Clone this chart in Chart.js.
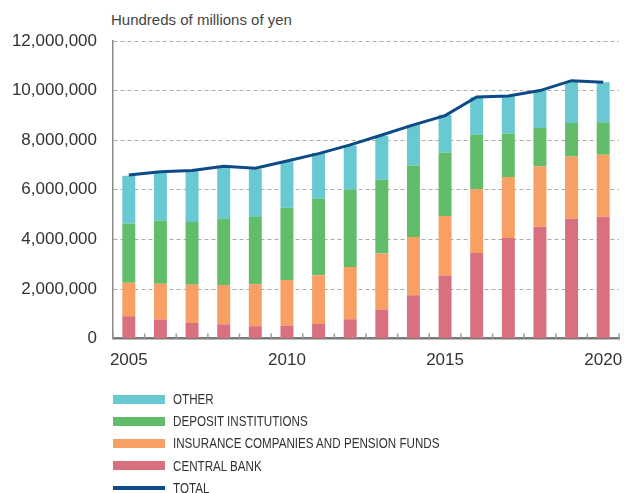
<!DOCTYPE html>
<html>
<head>
<meta charset="utf-8">
<script src="https://cdn.jsdelivr.net/npm/chart.js@4.4.1/dist/chart.umd.min.js"></script>
<style>
  body { margin: 0; background: #fff; width: 624px; height: 493px; overflow: hidden; position: relative; }
  #wrap { position: absolute; left: 0; top: 0; width: 624px; height: 391px; }
  #unit { position: absolute; left: 111px; top: 11px; font: 15px "Liberation Sans", Arial, sans-serif; color: #444; }
  #legend { position: absolute; left: 113px; top: 388px; font: 14px "Liberation Sans", Arial, sans-serif; color: #333; }
  .item { height: 22.2px; display: flex; align-items: center; white-space: nowrap; }
  .sw { width: 52px; height: 9px; margin-right: 8px; flex: none; }
  .item span { display: inline-block; transform: scaleX(0.83); transform-origin: left center; }
</style>
</head>
<body>
<div id="unit">Hundreds of millions of yen</div>
<div id="wrap"><canvas id="myChart"></canvas></div>
<div id="legend"></div>
<script>
const years = ['2005','2006','2007','2008','2009','2010','2011','2012','2013','2014','2015','2016','2017','2018','2019','2020'];
// segment heights (hundreds of millions of yen)
const centralBank = [900000, 770000, 630000, 580000, 500000, 530000, 590000, 780000, 1170000, 1750000, 2540000, 3450000, 4060000, 4510000, 4830000, 4910000];
const insurance   = [1350000, 1440000, 1540000, 1580000, 1690000, 1830000, 1960000, 2110000, 2260000, 2350000, 2400000, 2570000, 2460000, 2440000, 2510000, 2500000];
const deposit     = [2390000, 2540000, 2530000, 2670000, 2710000, 2920000, 3090000, 3110000, 2990000, 2880000, 2560000, 2200000, 1750000, 1540000, 1350000, 1310000];
const other       = [1930000, 1940000, 2070000, 2070000, 1930000, 1860000, 1840000, 1790000, 1760000, 1640000, 1530000, 1510000, 1530000, 1510000, 1660000, 1620000];
const total       = [6600000, 6730000, 6780000, 6950000, 6870000, 7160000, 7460000, 7810000, 8210000, 8620000, 8990000, 9740000, 9780000, 10000000, 10400000, 10340000];
const yTicks = [0, 2000000, 4000000, 6000000, 8000000, 10000000, 12000000];
const shownYears = ['2005','2010','2015','2020'];

const series = [
  { label: 'CENTRAL BANK', data: centralBank, color: '#d9707f' },
  { label: 'INSURANCE COMPANIES AND PENSION FUNDS', data: insurance, color: '#f89f63' },
  { label: 'DEPOSIT INSTITUTIONS', data: deposit, color: '#61bd69' },
  { label: 'OTHER', data: other, color: '#68c9d3' }
];

const barSets = series.map(s => ({
  type: 'bar',
  label: s.label,
  data: s.data,
  backgroundColor: s.color,
  borderWidth: 0,
  barPercentage: 0.41,
  categoryPercentage: 1,
  stack: 'parts',
  order: 1
}));

const lineSet = {
  type: 'line',
  label: 'TOTAL',
  data: total,
  borderColor: '#0d4a86',
  borderWidth: 3,
  pointRadius: 0,
  tension: 0,
  fill: false,
  stack: 'total',
  order: 0
};

// little tick marks sitting on the x axis between the years
const xTickMarks = {
  id: 'xTickMarks',
  afterDatasetsDraw(chart) {
    const xs = chart.scales.x, bottom = chart.chartArea.bottom, ctx = chart.ctx;
    const step = xs.getPixelForValue(1) - xs.getPixelForValue(0);
    ctx.save();
    ctx.strokeStyle = '#999';
    ctx.lineWidth = 1.5;
    for (let i = 0; i <= years.length; i++) {
      const x = xs.getPixelForValue(0) - step / 2 + i * step;
      ctx.beginPath();
      ctx.moveTo(x, bottom - 5);
      ctx.lineTo(x, bottom);
      ctx.stroke();
    }
    ctx.restore();
  }
};

const ctx = document.getElementById('myChart').getContext('2d');
const myChart = new Chart(ctx, {
  data: { labels: years, datasets: [...barSets, lineSet] },
  plugins: [xTickMarks],
  options: {
    responsive: true,
    maintainAspectRatio: false,
    animation: false,
    layout: { padding: { left: 0, right: 5, top: 41, bottom: 8 } },
    plugins: { legend: { display: false }, tooltip: { enabled: false } },
    scales: {
      x: {
        stacked: true,
        offset: true,
        grid: { display: false, drawTicks: false },
        border: { display: true, color: '#7a7a7a', width: 2.5 },
        afterFit: axis => { axis.paddingLeft = 0; axis.paddingRight = 0; },
        ticks: {
          autoSkip: false,
          maxRotation: 0,
          padding: 12,
          color: '#333',
          font: { family: '"Liberation Sans", Arial, sans-serif', size: 17 },
          callback: function(value) {
            const y = this.getLabelForValue(value);
            return shownYears.includes(y) ? y : '';
          }
        }
      },
      y: {
        stacked: true,
        min: 0,
        max: 12000000,
        afterBuildTicks: axis => { axis.ticks = yTicks.map(v => ({ value: v })); },
        afterFit: axis => { axis.width = 113; },
        grid: { color: '#aaa', lineWidth: 1, drawTicks: false },
        border: { display: true, color: '#8a8a8a', width: 1.5, dash: [4, 3] },
        ticks: {
          padding: 16,
          color: '#333',
          font: { family: '"Liberation Sans", Arial, sans-serif', size: 17 },
          callback: value => value.toLocaleString('en-US')
        }
      }
    }
  }
});

// legend drawn as html below the canvas
const legend = document.getElementById('legend');
[...series].reverse().concat([{ label: 'TOTAL', color: '#0d4a86', line: true }]).forEach(s => {
  const row = document.createElement('div');
  row.className = 'item';
  const sw = document.createElement('div');
  sw.className = 'sw';
  sw.style.background = s.color;
  if (s.line) sw.style.height = '4px';
  const txt = document.createElement('span');
  txt.textContent = s.label;
  row.appendChild(sw);
  row.appendChild(txt);
  legend.appendChild(row);
});
</script>
</body>
</html>
